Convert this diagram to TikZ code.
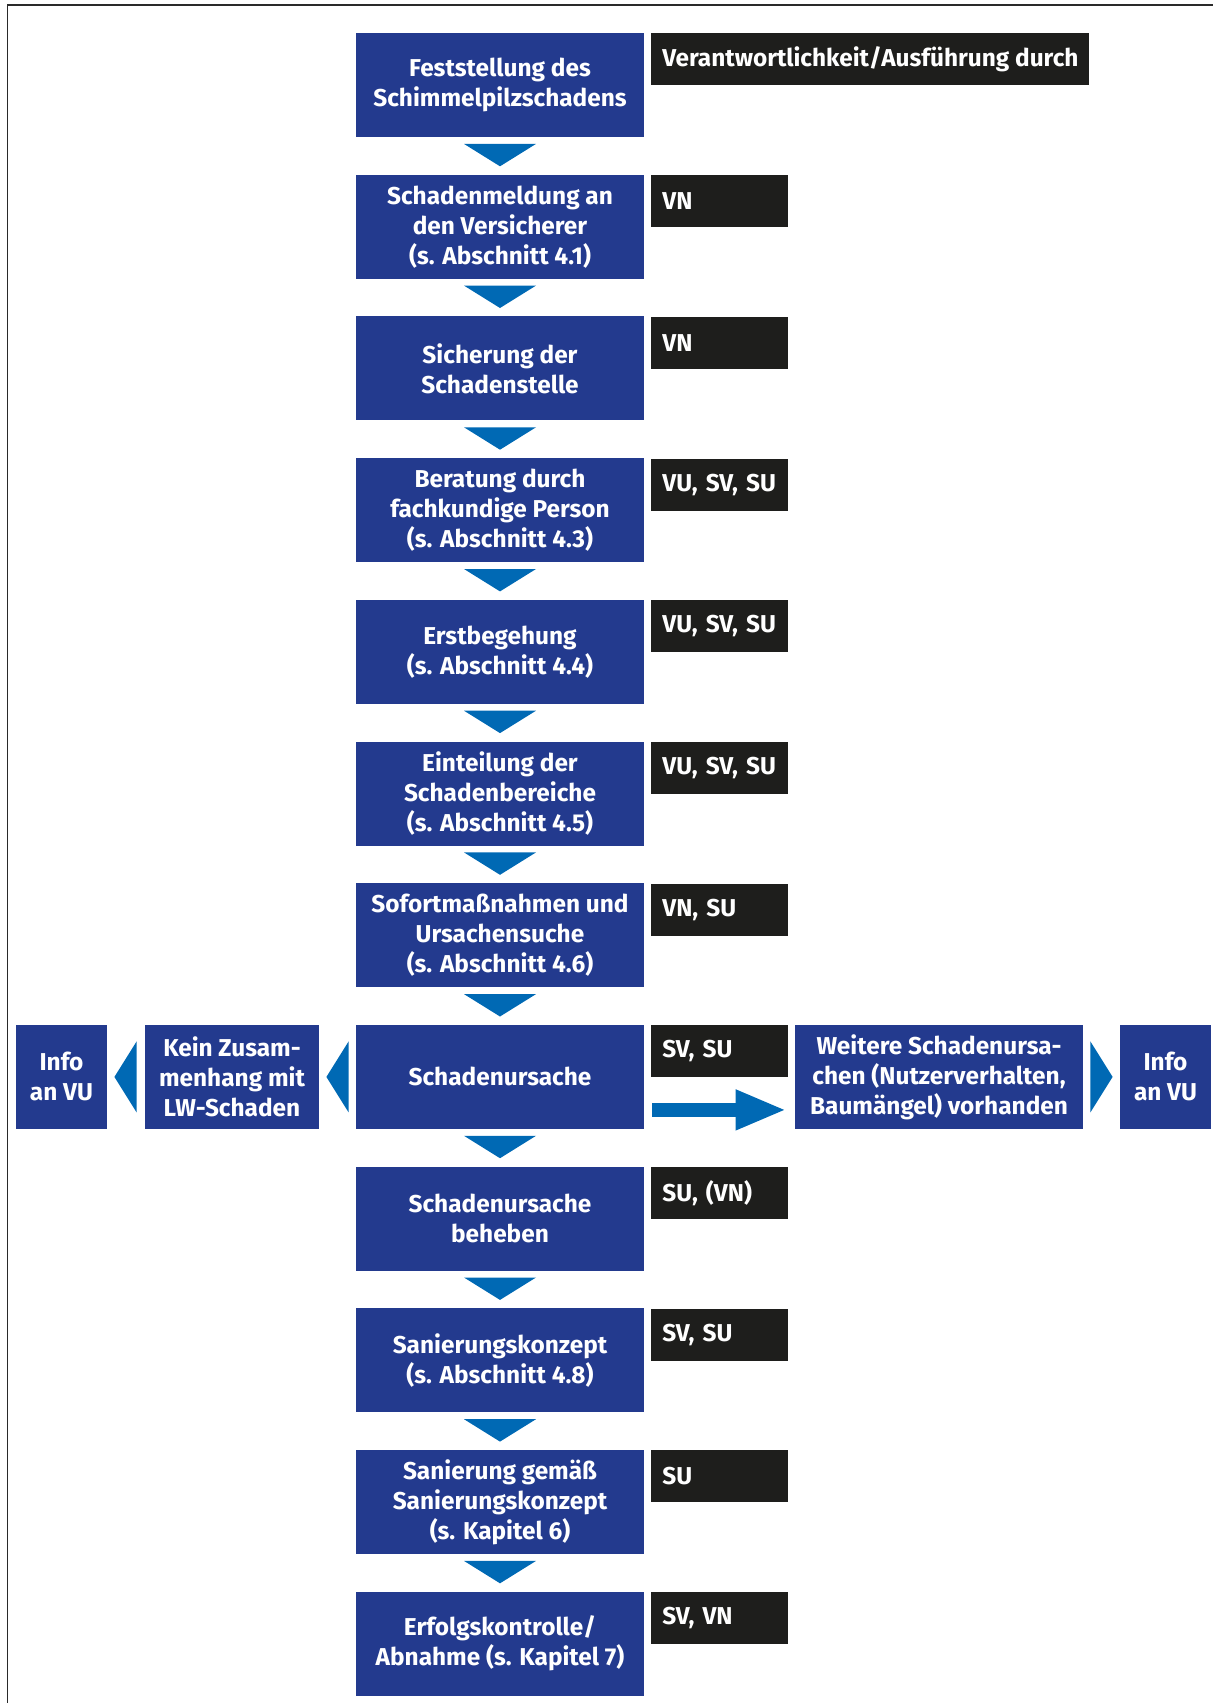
\documentclass[tikz,border=0pt]{standalone}
\usepackage{fontspec}
\setmainfont{Fira Sans}
\usetikzlibrary{calc,arrows.meta}
\definecolor{boxblue}{HTML}{233A8E}
\definecolor{triblue}{HTML}{0069B4}
\definecolor{tagblack}{HTML}{1E1E1C}
\definecolor{framegray}{HTML}{2A2A2A}

\begin{document}
\begin{tikzpicture}[x=0.5pt, y=-0.5pt,
  every node/.style={text=white, inner sep=0pt, font=\bfseries\fontsize{12.2}{15}\selectfont},
  stepbox/.style={fill=boxblue, minimum width=144pt, minimum height=52pt, align=center},
  sidebox/.style={fill=boxblue, minimum height=52pt, align=center},
  tagbox/.style={fill=tagblack, anchor=north west, text width=57.5pt, inner xsep=5.5pt, minimum height=26pt, align=left},
  headbox/.style={fill=tagblack, anchor=north west, minimum width=219pt, minimum height=26pt},
  tri/.style={fill=triblue},
  bigarr/.style={draw=triblue, line width=7pt, -{Triangle[length=25.5pt, width=18.5pt]}}]
\useasboundingbox (0,0) rectangle (1213,1703);
\draw[framegray, line width=0.6pt] (1213,5) -- (7.5,5) -- (7.5,1703);
% Ablauf
\node[stepbox] (S1) at (500,85) {Feststellung des\\Schimmelpilzschadens};
\node[stepbox] (S2) at (500,226.7) {Schadenmeldung an\\den Versicherer\\(s. Abschnitt 4.1)};
\node[stepbox] (S3) at (500,368.4) {Sicherung der\\Schadenstelle};
\node[stepbox] (S4) at (500,510.1) {Beratung durch\\fachkundige Person\\(s. Abschnitt 4.3)};
\node[stepbox] (S5) at (500,651.8) {Erstbegehung\\(s. Abschnitt 4.4)};
\node[stepbox] (S6) at (500,793.5) {Einteilung der\\Schadenbereiche\\(s. Abschnitt 4.5)};
\node[stepbox] (S7) at (500,935.2) {Sofortmaßnahmen und\\Ursachensuche\\(s. Abschnitt 4.6)};
\node[stepbox] (S8) at (500,1076.9) {Schadenursache};
\node[stepbox] (S9) at (500,1218.6) {Schadenursache\\beheben};
\node[stepbox] (S10) at (500,1360.3) {Sanierungskonzept\\(s. Abschnitt 4.8)};
\node[stepbox] (S11) at (500,1502) {Sanierung gemäß\\Sanierungskonzept\\(s. Kapitel 6)};
\node[stepbox] (S12) at (500,1643.7) {Erfolgskontrolle/\\Abnahme (s. Kapitel 7)};
% Verantwortlichkeit
\node[headbox] (H) at (651,33) {Verantwortlichkeit/Ausführung durch};
\node[tagbox] (T2) at (651,174.7) {VN};
\node[tagbox] (T3) at (651,316.4) {VN};
\node[tagbox] (T4) at (651,458.1) {VU,~SV,~SU};
\node[tagbox] (T5) at (651,599.8) {VU,~SV,~SU};
\node[tagbox] (T6) at (651,741.5) {VU,~SV,~SU};
\node[tagbox] (T7) at (651,883.2) {VN,~SU};
\node[tagbox] (T8) at (651,1024.9) {SV,~SU};
\node[tagbox] (T9) at (651,1166.6) {SU,~(VN)};
\node[tagbox] (T10) at (651,1308.3) {SV,~SU};
\node[tagbox] (T11) at (651,1450) {SU};
\node[tagbox] (T12) at (651,1591.7) {SV,~VN};
% Verzweigung
\node[sidebox, minimum width=45.5pt] (I1) at (61.5,1076.9) {Info\\an VU};
\node[sidebox, minimum width=87pt] (K) at (232,1076.9) {Kein Zusam-\\menhang mit\\LW-Schaden};
\node[sidebox, minimum width=144pt] (W) at (939,1076.9) {Weitere Schadenursa-\\chen (Nutzerverhalten,\\Baumängel) vorhanden};
\node[sidebox, minimum width=45.5pt] (I2) at (1165.5,1076.9) {Info\\an VU};
% Pfeile
\fill[tri] ($(S1.south)+(-36,6.5)$) -- ($(S1.south)+(36,6.5)$) -- ($(S2.north)+(0,-8)$) -- cycle;
\fill[tri] ($(S2.south)+(-36,6.5)$) -- ($(S2.south)+(36,6.5)$) -- ($(S3.north)+(0,-8)$) -- cycle;
\fill[tri] ($(S3.south)+(-36,6.5)$) -- ($(S3.south)+(36,6.5)$) -- ($(S4.north)+(0,-8)$) -- cycle;
\fill[tri] ($(S4.south)+(-36,6.5)$) -- ($(S4.south)+(36,6.5)$) -- ($(S5.north)+(0,-8)$) -- cycle;
\fill[tri] ($(S5.south)+(-36,6.5)$) -- ($(S5.south)+(36,6.5)$) -- ($(S6.north)+(0,-8)$) -- cycle;
\fill[tri] ($(S6.south)+(-36,6.5)$) -- ($(S6.south)+(36,6.5)$) -- ($(S7.north)+(0,-8)$) -- cycle;
\fill[tri] ($(S7.south)+(-36,6.5)$) -- ($(S7.south)+(36,6.5)$) -- ($(S8.north)+(0,-8)$) -- cycle;
\fill[tri] ($(S8.south)+(-36,6.5)$) -- ($(S8.south)+(36,6.5)$) -- ($(S9.north)+(0,-8)$) -- cycle;
\fill[tri] ($(S9.south)+(-36,6.5)$) -- ($(S9.south)+(36,6.5)$) -- ($(S10.north)+(0,-8)$) -- cycle;
\fill[tri] ($(S10.south)+(-36,6.5)$) -- ($(S10.south)+(36,6.5)$) -- ($(S11.north)+(0,-8)$) -- cycle;
\fill[tri] ($(S11.south)+(-36,6.5)$) -- ($(S11.south)+(36,6.5)$) -- ($(S12.north)+(0,-8)$) -- cycle;
\fill[tri] ($(K.west)+(-8,-35.5)$) -- ($(K.west)+(-8,35.5)$) -- ($(I1.east)+(7,0)$) -- cycle;
\fill[tri] ($(S8.west)+(-7,-35.5)$) -- ($(S8.west)+(-7,35.5)$) -- ($(K.east)+(7,0)$) -- cycle;
\fill[tri] ($(W.east)+(7,-35.5)$) -- ($(W.east)+(7,35.5)$) -- ($(I2.west)+(-7,0)$) -- cycle;
\draw[bigarr] ($(S8.east)+(8,33)$) -- ($(W.west)+(-8,33)$);
\end{tikzpicture}
\end{document}
